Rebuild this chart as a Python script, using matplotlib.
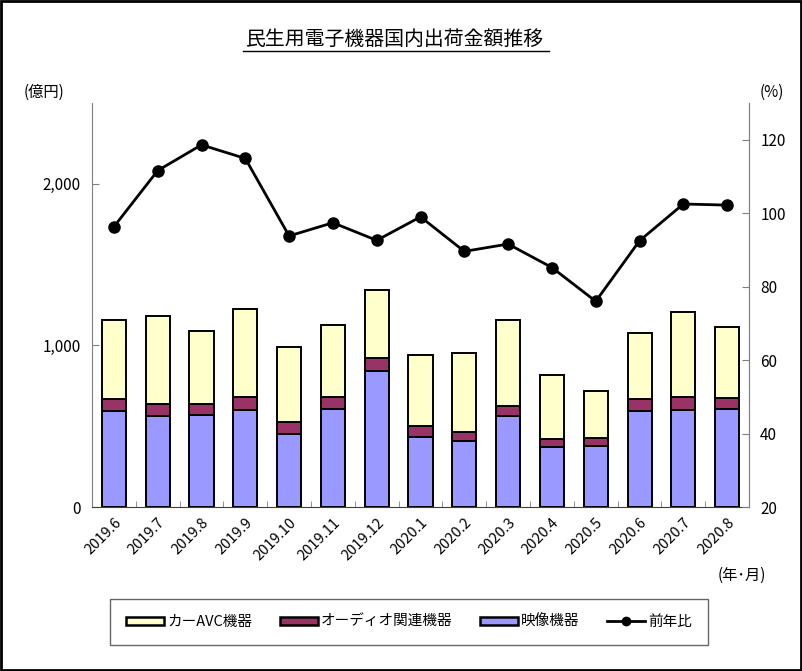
import numpy as np
import matplotlib.pyplot as plt
from matplotlib.patches import Rectangle
from matplotlib.lines import Line2D
from matplotlib.ticker import FuncFormatter

plt.rcParams['font.family'] = ['Noto Sans CJK JP', 'DejaVu Sans']

# data (億円 / %)
months = ['2019.6', '2019.7', '2019.8', '2019.9', '2019.10', '2019.11', '2019.12',
          '2020.1', '2020.2', '2020.3', '2020.4', '2020.5', '2020.6', '2020.7', '2020.8']
video = [597, 562, 572, 601, 449, 605, 840, 432, 409, 566, 372, 379, 593, 601, 609]
audio = [72, 78, 64, 78, 76, 74, 84, 68, 56, 62, 50, 47, 78, 78, 66]
car_avc = [491, 541, 452, 547, 465, 447, 418, 442, 488, 532, 393, 290, 405, 527, 436]
yoy = [96.3, 111.6, 118.6, 114.9, 93.8, 97.4, 92.6, 99.0, 89.6, 91.6, 85.2, 76.0, 92.5, 102.5, 102.2]

c_car = '#FFFFCC'
c_audio = '#993366'
c_video = '#9999FF'

fig = plt.figure(figsize=(8.02, 6.71), dpi=100)
ax = fig.add_axes([0.1147, 0.2444, 0.934 - 0.1147, 0.8465 - 0.2444])

x = np.arange(len(months))
w = 0.55
video = np.array(video)
audio = np.array(audio)
ax.bar(x, video, w, color=c_video, edgecolor='black', lw=1.4, zorder=2)
ax.bar(x, audio, w, bottom=video, color=c_audio, edgecolor='black', lw=1.4, zorder=2)
ax.bar(x, car_avc, w, bottom=video + audio, color=c_car, edgecolor='black', lw=1.4, zorder=2)

ax.set_xlim(-0.5, len(months) - 0.5)
ax.set_ylim(0, 2500)
ax.set_yticks([0, 1000, 2000])
ax.yaxis.set_major_formatter(FuncFormatter(lambda v, p: f'{int(v):,}'))
ax.set_xticks(x)
ax.set_xticklabels(months, rotation=45, ha='right', rotation_mode='anchor', fontsize=10.5)
ax.set_xticks(np.arange(len(months) + 1) - 0.5, minor=True)
ax.tick_params(axis='x', which='major', length=0, pad=6)
ax.tick_params(axis='x', which='minor', direction='in', length=4, color='#808080')
ax.tick_params(axis='y', direction='in', length=5, color='#808080', labelsize=11, pad=8)

ax.spines['top'].set_visible(False)
ax.spines['left'].set_color('#808080')
ax.spines['right'].set_color('#808080')
ax.spines['bottom'].set_color('#404040')

ax2 = ax.twinx()
ax2.plot(x, yoy, color='black', lw=2, marker='o', ms=8, zorder=5)
ax2.set_ylim(20, 130)
ax2.set_yticks([20, 40, 60, 80, 100, 120])
ax2.tick_params(axis='y', direction='in', length=5, color='#808080', labelsize=11, pad=8)
for s in ['top', 'left', 'bottom']:
    ax2.spines[s].set_visible(False)
ax2.spines['right'].set_color('#808080')

fig.text(0.4925, 0.941, '民生用電子機器国内出荷金額推移', ha='center', va='center',
         fontsize=14.3)
# underline under title
fig.add_artist(Line2D([0.303, 0.685], [0.924, 0.924], color='black', lw=1))

fig.text(0.055, 0.862, '(億円)', ha='center', va='center', fontsize=11)
fig.text(0.962, 0.862, '(%)', ha='center', va='center', fontsize=11)
fig.text(0.925, 0.143, '(年･月)', ha='center', va='center', fontsize=11)

handles = [Rectangle((0, 0), 1, 1, fc=c_car, ec='black', lw=1.8),
           Rectangle((0, 0), 1, 1, fc=c_audio, ec='black', lw=1.8),
           Rectangle((0, 0), 1, 1, fc=c_video, ec='black', lw=1.8),
           Line2D([], [], color='black', lw=2, marker='o', ms=6)]
labels = ['カーAVC機器', 'オーディオ関連機器', '映像機器', '前年比']
leg = fig.legend(handles, labels, loc='center', bbox_to_anchor=(0.51, 0.073), ncol=4,
                 fontsize=10.5, frameon=True, fancybox=False, edgecolor='#404040',
                 handlelength=2.6, handleheight=0.5, handletextpad=0.2,
                 columnspacing=1.9, borderpad=1.1)
leg.get_frame().set_linewidth(1)

fig.add_artist(Rectangle((0.001, 0.001), 0.998, 0.998, transform=fig.transFigure,
                         fill=False, ec='black', lw=2))

fig.savefig('out.png', dpi=100)
